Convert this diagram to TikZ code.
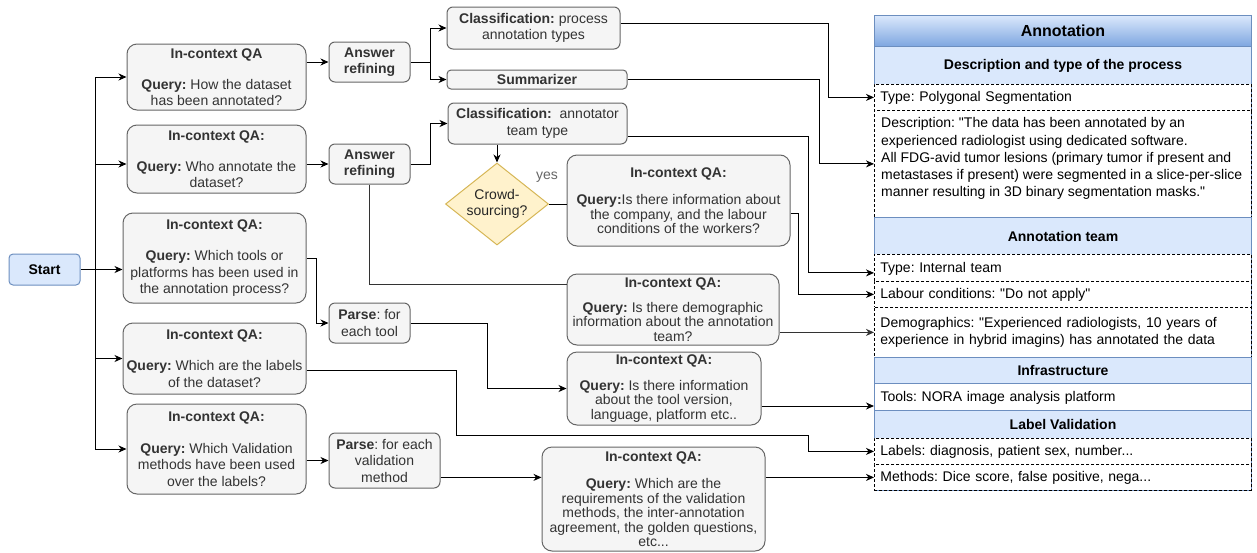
\documentclass[tikz,border=0pt]{standalone}
\usepackage{fontspec}
\setmainfont{Liberation Sans}[Ligatures=TeXOff]
\frenchspacing
\usetikzlibrary{shapes.geometric,arrows.meta,calc}
\definecolor{gfill}{HTML}{F5F5F5}
\definecolor{gdraw}{HTML}{666666}
\definecolor{gtext}{HTML}{333333}
\definecolor{bfill}{HTML}{DAE8FC}
\definecolor{bdraw}{HTML}{6C8EBF}
\definecolor{bdark}{HTML}{7EA6E0}
\definecolor{yfill}{HTML}{FFF2CC}
\definecolor{ydraw}{HTML}{D6B656}
\tikzset{
  box/.style={draw=gdraw, fill=gfill, text=gtext, line width=1pt, inner sep=0pt, align=center, font=\fontsize{14}{16.5}\selectfont},
  qa/.style={box, rounded corners=10pt},
  qar/.style={box, rounded corners=10pt, font=\fontsize{14}{14.5}\selectfont},
  smallbox/.style={box, rounded corners=6pt},
  arr/.style={draw=black, line width=1pt, -{Stealth[length=8pt,width=7pt,inset=2.5pt]}},
  ln/.style={draw=black, line width=1pt},
  gln/.style={draw=gtext, line width=1pt},
  row/.style={draw=black, dash pattern=on 3pt off 2pt, fill=white, line width=0.8pt, anchor=north west, text width=365pt, inner xsep=6pt, inner ysep=0pt, align=left, text height=11.5pt, text depth=3pt, font=\fontsize{14}{17.25}\selectfont},
  sec/.style={draw=bdraw, fill=bfill, line width=1pt, anchor=north west, minimum width=377pt, inner sep=0pt, font=\bfseries\fontsize{14}{17}\selectfont},
}
\begin{document}
\begin{tikzpicture}[x=1pt,y=-1pt]
\useasboundingbox (0,0) rectangle (1257,552);

% start
\node[draw=bdraw, fill=bfill, rounded corners=4pt, line width=1pt, minimum width=71pt, minimum height=31pt, inner sep=0pt, font=\bfseries\fontsize{14}{16.5}\selectfont] (start) at (44.5,269.5) {Start};

% left QA boxes
\node[qa, minimum width=179pt, minimum height=66pt] (qa1) at (216.5,77) {\textbf{In-context QA}\\[14.5pt]\textbf{Query:} How the dataset\\has been annotated?};
\node[qa, minimum width=179pt, minimum height=68pt] (qa2) at (216.5,159) {\textbf{In-context QA:}\\[14.5pt]\textbf{Query:} Who annotate the\\dataset?};
\node[qa, minimum width=183pt, minimum height=90pt] (qa3) at (214.5,258) {\textbf{In-context QA:}\\[15pt]\textbf{Query:} Which tools or\\platforms has been used in\\the annotation process?};
\node[qa, minimum width=183pt, minimum height=71pt] (qa4) at (214.5,358.5) {\textbf{In-context QA:}\\[15pt]\textbf{Query:} Which are the labels\\of the dataset?};
\node[qa, minimum width=179pt, minimum height=90pt] (qa5) at (216.5,449) {\textbf{In-context QA:}\\[15pt]\textbf{Query:} Which Validation\\methods have been used\\over the labels?};

% second column
\node[smallbox, minimum width=81pt, minimum height=40pt, font=\bfseries\fontsize{14}{16.5}\selectfont] (ar1) at (369.5,62) {Answer\\refining};
\node[smallbox, minimum width=81pt, minimum height=40pt, font=\bfseries\fontsize{14}{16.5}\selectfont] (ar2) at (369.5,164) {Answer\\refining};
\node[smallbox, minimum width=81pt, minimum height=40pt] (parse1) at (369.5,323) {\textbf{Parse}: for\\each tool};
\node[smallbox, minimum width=111pt, minimum height=55pt] (parse2) at (384.5,460.5) {\textbf{Parse}: for each\\validation\\method};

% third column
\node[smallbox, minimum width=173pt, minimum height=42pt] (cls1) at (533.5,28) {\textbf{Classification:} process\\annotation types};
\node[smallbox, rounded corners=4pt, minimum width=180pt, minimum height=19pt, font=\bfseries\fontsize{14}{16.5}\selectfont] (summ) at (537,79.5) {Summarizer};
\node[smallbox, minimum width=179pt, minimum height=41pt] (cls2) at (537.5,123.5) {\textbf{Classification:}\ \ annotator\\team type};
\node[diamond, draw=ydraw, fill=yfill, line width=1pt, minimum width=103pt, minimum height=82pt, aspect=1.256, inner sep=0pt, align=center, text=black!85, font=\fontsize{14}{15.5}\selectfont] (crowd) at (497,204) {Crowd-\\sourcing?};
\node[text=gdraw, inner sep=0pt, font=\fontsize{14}{16}\selectfont] (yeslbl) at (547,177) {yes};

% fourth column
\node[qar, minimum width=223pt, minimum height=91pt] (qacrowd) at (678.5,200.5) {\textbf{In-context QA:}\\[13pt]\textbf{Query:}Is there information about\\the company, and the labour\\conditions of the workers?};
\node[qar, minimum width=212pt, minimum height=71pt] (qademo) at (673,309.5) {\textbf{In-context QA:}\\[10.5pt]\textbf{Query:} Is there demographic\\information about the annotation\\team?};
\node[qar, minimum width=194pt, minimum height=73pt] (qatool) at (664,388.5) {\textbf{In-context QA:}\\[11.5pt]\textbf{Query:} Is there information\\about the tool version,\\language, platform etc..};
\node[qar, minimum width=223pt, minimum height=104pt] (qareq) at (653.5,499) {\textbf{In-context QA:}\\[13pt]\textbf{Query:} Which are the\\requirements of the validation\\methods, the inter-annotation\\agreement, the golden questions,\\etc...};

% right panel
\node[draw=bdraw, line width=1.2pt, anchor=north west, minimum width=377pt, minimum height=475pt, inner sep=0pt] (panel) at (874,15) {};
\node[sec, top color=bfill, bottom color=bdark, minimum height=31pt, font=\bfseries\fontsize{16}{18}\selectfont] (hdr) at (874,15) {Annotation};
\node[sec, minimum height=38pt] (sec1) at (874,46) {Description and type of the process};
\node[row, minimum height=26pt] (ptype) at (874,84) {Type: Polygonal Segmentation};
\node[row, minimum height=107pt, text height=0pt, text depth=0pt] (desc) at (874,110) {};
\node[anchor=north west, inner sep=0pt, align=left, font=\fontsize{14}{17.25}\selectfont] (desctxt) at (881,117.5) {Description: "The data has been annotated by an\\experienced radiologist using dedicated software.\\All FDG-avid tumor lesions (primary tumor if present and\\metastases if present) were segmented in a slice-per-slice\\manner resulting in 3D binary segmentation masks."};
\node[sec, minimum height=37pt] (sec2) at (874,217) {Annotation team};
\node[row, minimum height=27pt] (pint) at (874,254) {Type: Internal team};
\node[row, minimum height=26pt] (plab) at (874,281) {Labour conditions: "Do not apply"};
\node[row, minimum height=50pt, text height=, text depth=] (pdemo) at (874,307) {Demographics: "Experienced radiologists, 10 years of\\experience in hybrid imagins) has annotated the data};
\node[sec, minimum height=26pt] (sec3) at (874,357) {Infrastructure};
\node[row, draw=bdraw, solid, line width=1pt, minimum height=27pt] (ptools) at (874,383) {Tools: NORA image analysis platform};
\node[sec, minimum height=28pt] (sec4) at (874,410) {Label Validation};
\node[row, minimum height=26pt] (plabels) at (874,438) {Labels: diagnosis, patient sex, number...};
\node[row, minimum height=26pt] (pmeth) at (874,464) {Methods: Dice score, false positive, nega...};

% connectors from start
\coordinate (trunk) at ([xshift=15pt]start.east);
\draw[arr] (start.east) -- (start.east -| qa3.west);
\draw[arr] (trunk) |- (qa1.west);
\draw[arr] (trunk) |- (qa2.west |- ar2.west);
\draw[arr] (trunk) |- (qa4.west);
\draw[arr] (trunk) |- (qa5.west);

% left to second column
\draw[arr] (qa1.east |- ar1.west) -- (ar1.west);
\draw[arr] (qa2.east |- ar2.west) -- (ar2.west);
\coordinate (sp1) at ([xshift=20pt]ar1.east);
\draw[ln] (ar1.east) -- (sp1);
\draw[arr] (sp1) |- (cls1.west);
\draw[arr] (sp1) |- (summ.west);
\draw[arr] (ar2.east) -- ++(20,0) |- (cls2.west);
\coordinate (demoin) at ([yshift=-11pt]qademo.north west);
\draw[gln] (ar2.south) |- (demoin);
\draw[arr] (qa3.east) -- ++(10,0) |- (parse1.west);
\draw[arr] (parse1.east) -- ++(77,0) |- (qatool.west);
\draw[arr] ([yshift=-11.5pt]qa4.east) -- ++(150,0) -- ++(0,65) -- ++(352,0) |- (plabels.west);
\draw[arr] (qa5.east |- parse2.west) -- (parse2.west);
\draw[arr] (parse2.east |- pmeth.west) -- (qareq.west |- pmeth.west);

% middle
\draw[arr] (crowd.north |- cls2.south) -- (crowd.north);
\draw[ln] (crowd.east) -- (crowd.east -| qacrowd.west);

% to the panel
\draw[arr] ([yshift=5pt]cls1.east) -| ([xshift=-46pt]ptype.west) -- (ptype.west);
\draw[arr] (summ.east) -| ([xshift=-55pt]desc.west) -- (desc.west);
\draw[arr] ([yshift=-12.5pt]cls2.east) -| ([xshift=-66pt,yshift=-5pt]pint.west) -- ([yshift=-5pt]pint.west);
\draw[arr] ([yshift=-12.5pt]qacrowd.east) -| ([xshift=-76pt]plab.west) -- (plab.west);
\draw[arr, draw=gtext] (qademo.east |- pdemo.west) -- (pdemo.west);
\draw[arr] ([yshift=-17.5pt]qatool.east) -- ([yshift=-17.5pt]qatool.east -| ptools.west);
\draw[arr] (qareq.east |- pmeth.west) -- (pmeth.west);
\end{tikzpicture}
\end{document}
